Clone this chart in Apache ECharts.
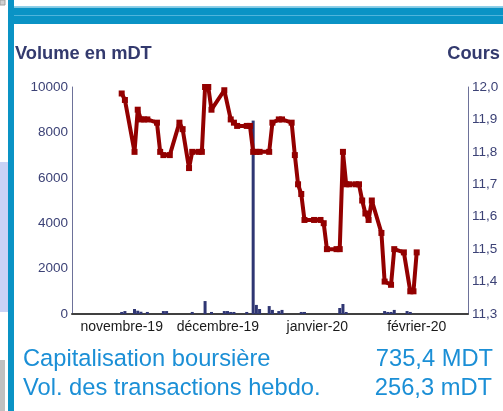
<!DOCTYPE html>
<html>
<head>
<meta charset="utf-8">
<script src="https://cdn.jsdelivr.net/npm/echarts@6/dist/echarts.min.js"></script>
<style>
html,body{margin:0;padding:0;background:#fff;}
#chart{width:503px;height:411px;}
</style>
</head>
<body>
<div id="chart"></div>
<script>
// ---- Data ----
const priceDates = ['2019-11-01','2019-11-02','2019-11-05','2019-11-06','2019-11-07','2019-11-08','2019-11-09','2019-11-12','2019-11-13','2019-11-14','2019-11-16','2019-11-19','2019-11-20','2019-11-22','2019-11-23','2019-11-25','2019-11-26','2019-11-27','2019-11-28','2019-11-29',
  '2019-12-03','2019-12-05','2019-12-06','2019-12-07','2019-12-10','2019-12-11','2019-12-12','2019-12-13','2019-12-14','2019-12-17','2019-12-18','2019-12-20','2019-12-21','2019-12-24','2019-12-25','2019-12-26','2019-12-27','2019-12-28','2019-12-31',
  '2020-01-02','2020-01-03','2020-01-04','2020-01-07','2020-01-08','2020-01-09','2020-01-10','2020-01-11','2020-01-13','2020-01-14','2020-01-15','2020-01-16','2020-01-17','2020-01-18','2020-01-21','2020-01-22','2020-01-24','2020-01-25','2020-01-28','2020-01-30','2020-01-31',
  '2020-02-01'];
const prices = [11.98,11.96,11.80,11.93,11.90,11.90,11.90,11.89,11.80,11.79,11.79,11.89,11.87,11.75,11.80,11.80,11.80,12.00,12.00,11.93,
  11.99,11.90,11.89,11.88,11.88,11.88,11.80,11.80,11.80,11.80,11.89,11.90,11.90,11.89,11.79,11.70,11.67,11.59,11.59,
  11.59,11.58,11.50,11.50,11.50,11.80,11.70,11.70,11.70,11.70,11.65,11.61,11.59,11.65,11.55,11.40,11.39,11.50,11.49,11.37,11.37,
  11.49];

const volumeDates = ['2019-11-01','2019-11-02','2019-11-05','2019-11-06','2019-11-07','2019-11-09','2019-11-14','2019-11-15','2019-11-23','2019-11-27','2019-11-29',
  '2019-12-03','2019-12-04','2019-12-05','2019-12-06','2019-12-10','2019-12-12','2019-12-13','2019-12-14','2019-12-17','2019-12-18','2019-12-20','2019-12-21','2019-12-27','2019-12-28',
  '2020-01-08','2020-01-09','2020-01-10','2020-01-22','2020-01-23','2020-01-24','2020-01-25','2020-01-29','2020-01-30'];
const volumes = [90,130,220,145,100,90,130,130,90,570,90,
  130,130,90,90,90,8520,400,220,350,180,130,180,90,90,
  265,440,90,130,90,90,180,130,90];

const monthTicks = ['2019-11-01','2019-12-01','2020-01-01','2020-02-01'];
const monthLabels = ['novembre-19','décembre-19','janvier-20','février-20'];

const leftTitle = 'Volume en mDT';
const rightTitle = 'Cours';
const infoLabels = ['Capitalisation boursière','Vol. des transactions hebdo.'];
const infoValues = ['735,4 MDT','256,3 mDT'];

// ---- Helpers ----
const DAY = 86400000;
function ts(s){ const p = s.split('-').map(Number); return Date.UTC(p[0], p[1]-1, p[2]); }
const tickTs = monthTicks.map(ts);
const start = ts('2019-11-01');

const FONT = '"Liberation Sans", Arial, sans-serif';
const NAVY = '#333a6e';
const BLUE = '#0a93c5';
const TXTBLUE = '#1b8fd6';

const chart = echarts.init(document.getElementById('chart'), null, {renderer:'canvas'});
chart.setOption({
  animation: false,
  backgroundColor: '#fff',
  grid: {left: 72, right: 35, top: 87, bottom: 97},
  xAxis: {
    type: 'value',
    min: start - 15.5*DAY,
    max: start + 108*DAY,
    axisLine: {show: true, onZero: false, lineStyle: {color: '#404040', width: 2}},
    axisTick: {show: false},
    splitLine: {show: false},
    axisLabel: {
      customValues: tickTs,
      hideOverlap: false,
      formatter: function(v){
        let best = 0, bd = Infinity;
        tickTs.forEach((t,i)=>{ const d = Math.abs(t - v); if (d < bd){bd = d; best = i;} });
        return monthLabels[best];
      },
      color: '#1a1a1a', fontSize: 14, fontFamily: FONT, margin: 6
    }
  },
  yAxis: [
    {
      type: 'value', position: 'left', min: 0, max: 10000, interval: 2000,
      axisLine: {show: true, lineStyle: {color: '#6d7199', width: 1}},
      axisTick: {show: false}, splitLine: {show: false},
      axisLabel: {color: '#3c4276', fontSize: 13.5, fontFamily: FONT, margin: 4,
        formatter: v => String(Math.round(v))}
    },
    {
      type: 'value', position: 'right', min: 11.3, max: 12.0, interval: 0.1,
      axisLine: {show: true, lineStyle: {color: '#6d7199', width: 1}},
      axisTick: {show: false}, splitLine: {show: false},
      axisLabel: {color: '#3c4276', fontSize: 13.5, fontFamily: FONT, margin: 4,
        formatter: v => v.toFixed(1).replace('.', ',')}
    }
  ],
  series: [
    {
      type: 'bar', yAxisIndex: 0, barWidth: 3,
      itemStyle: {color: '#2f3673'},
      data: volumeDates.map((d,i)=>[ts(d), volumes[i]])
    },
    {
      type: 'line', yAxisIndex: 1, symbol: 'rect', symbolSize: 6,
      lineStyle: {color: '#930000', width: 4},
      itemStyle: {color: '#930000'},
      data: priceDates.map((d,i)=>[ts(d), prices[i]])
    }
  ],
  graphic: [
    {type:'rect', shape:{x:0, y:0, width:5, height:5}, style:{fill:'#d0d0d0', stroke:'#a0a0a0'}},
    {type:'rect', shape:{x:0, y:162, width:8, height:150}, style:{fill:'#c9d2f6'}},
    {type:'rect', shape:{x:0, y:360, width:5, height:51}, style:{fill:'#c0c0c0'}},
    {type:'rect', shape:{x:14, y:6, width:489, height:1}, style:{fill:'#8fd0ea'}},
    {type:'rect', shape:{x:8, y:7.5, width:495, height:16.5}, style:{fill:BLUE}},
    {type:'rect', shape:{x:14, y:15, width:489, height:1}, style:{fill:'#4fb4dc'}},
    {type:'rect', shape:{x:8, y:0, width:6, height:411}, style:{fill:BLUE}},
    {type:'text', style:{x:15, y:53.5, text:leftTitle, fill:NAVY, font:'bold 18.3px "Liberation Sans", Arial, sans-serif', textAlign:'left', textVerticalAlign:'middle'}},
    {type:'text', style:{x:500, y:53.5, text:rightTitle, fill:NAVY, font:'bold 18.3px "Liberation Sans", Arial, sans-serif', textAlign:'right', textVerticalAlign:'middle'}},
    {type:'text', style:{x:23, y:359.5, text:infoLabels[0], fill:TXTBLUE, font:'23.7px "Liberation Sans", Arial, sans-serif', textAlign:'left', textVerticalAlign:'middle'}},
    {type:'text', style:{x:23, y:388, text:infoLabels[1], fill:TXTBLUE, font:'23.7px "Liberation Sans", Arial, sans-serif', textAlign:'left', textVerticalAlign:'middle'}},
    {type:'text', style:{x:493, y:359.5, text:infoValues[0], fill:TXTBLUE, font:'23.7px "Liberation Sans", Arial, sans-serif', textAlign:'right', textVerticalAlign:'middle'}},
    {type:'text', style:{x:492, y:388, text:infoValues[1], fill:TXTBLUE, font:'23.7px "Liberation Sans", Arial, sans-serif', textAlign:'right', textVerticalAlign:'middle'}}
  ]
});
</script>
</body>
</html>
